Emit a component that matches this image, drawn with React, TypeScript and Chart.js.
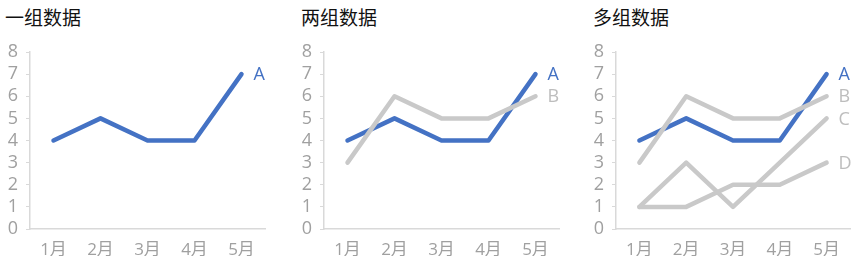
import React, { useEffect, useRef } from "react";
import { Chart, registerables } from "chart.js";

Chart.register(...registerables);

const months = ["1月", "2月", "3月", "4月", "5月"];
const seriesA = [4, 5, 4, 4, 7];
const seriesB = [3, 6, 5, 5, 6];
const seriesC = [1, 3, 1, 3, 5];
const seriesD = [1, 1, 2, 2, 3];
const yTicks = [0, 1, 2, 3, 4, 5, 6, 7, 8];
const titles = ["一组数据", "两组数据", "多组数据"];

const BLUE = "#4472C4";
const GRAY = "#C9C9C9";
const LABEL_GRAY = "#BDBDBD";
const FONT = "'Open Sans', 'Noto Sans CJK SC', sans-serif";

type S = { name: string; data: number[]; color: string; labelColor: string };

const panelSeries: S[][] = [
  [{ name: "A", data: seriesA, color: BLUE, labelColor: BLUE }],
  [
    { name: "B", data: seriesB, color: GRAY, labelColor: LABEL_GRAY },
    { name: "A", data: seriesA, color: BLUE, labelColor: BLUE },
  ],
  [
    { name: "D", data: seriesD, color: GRAY, labelColor: LABEL_GRAY },
    { name: "C", data: seriesC, color: GRAY, labelColor: LABEL_GRAY },
    { name: "B", data: seriesB, color: GRAY, labelColor: LABEL_GRAY },
    { name: "A", data: seriesA, color: BLUE, labelColor: BLUE },
  ],
];

const panels = [
  { left: 0, width: 285, padRight: 20, titleLeft: 5 },
  { left: 294, width: 285, padRight: 20, titleLeft: 301 },
  { left: 586, width: 269, padRight: 5, titleLeft: 593 },
];

const endLabels = {
  id: "endLabels",
  afterDatasetsDraw(chart: any) {
    const ctx = chart.ctx;
    ctx.save();
    ctx.font = `18px ${FONT}`;
    ctx.textBaseline = "middle";
    ctx.textAlign = "left";
    chart.data.datasets.forEach((ds: any, i: number) => {
      const meta = chart.getDatasetMeta(i);
      const pt = meta.data[meta.data.length - 1];
      if (!pt) return;
      ctx.fillStyle = ds.labelColor;
      ctx.fillText(ds.label, pt.x + 12, pt.y + 1);
    });
    ctx.restore();
  },
};

function Panel({ idx }: { idx: number }) {
  const ref = useRef<HTMLCanvasElement>(null);
  const p = panels[idx];
  useEffect(() => {
    if (!ref.current) return;
    const chart = new Chart(ref.current, {
      type: "line",
      data: {
        labels: months,
        datasets: panelSeries[idx].map((s) => ({
          label: s.name,
          data: s.data,
          borderColor: s.color,
          backgroundColor: s.color,
          labelColor: s.labelColor,
          borderWidth: 4.5,
          pointRadius: 0,
          borderCapStyle: "round",
          borderJoinStyle: "round",
          tension: 0,
        })) as any,
      },
      options: {
        animation: false,
        responsive: false,
        layout: { padding: { top: 52, right: p.padRight, left: 0, bottom: 0 } },
        plugins: { legend: { display: false }, tooltip: { enabled: false }, title: { display: false } },
        scales: {
          x: {
            offset: true,
            grid: { display: false },
            border: { display: true, color: "#D9D9D9", width: 1.5 },
            ticks: { color: "#A0A0A0", font: { family: FONT, size: 17 }, padding: 3, maxRotation: 0, autoSkip: false },
            afterFit: (s: any) => {
              s.height = 27;
            },
          },
          y: {
            min: 0,
            max: 8,
            afterBuildTicks: (s: any) => {
              s.ticks = yTicks.map((v) => ({ value: v }));
            },
            grid: { display: true, drawOnChartArea: false, drawTicks: true, tickLength: 4, color: "#D9D9D9" },
            border: { display: true, color: "#D9D9D9", width: 1.5 },
            ticks: { color: "#A0A0A0", font: { family: FONT, size: 18 }, padding: 8, autoSkip: false },
            afterFit: (s: any) => {
              s.width = 30;
            },
          },
        },
      },
      plugins: [endLabels],
    });
    return () => chart.destroy();
  }, []);
  return (
    <>
      <div
        style={{
          position: "absolute",
          left: p.titleLeft,
          top: 7,
          fontFamily: "'Noto Sans CJK SC', sans-serif",
          fontSize: 19,
          lineHeight: "19px",
          fontWeight: 400,
          color: "#111",
          whiteSpace: "nowrap",
        }}
      >
        {titles[idx]}
      </div>
      <canvas
        ref={ref}
        width={p.width}
        height={256}
        style={{ position: "absolute", left: p.left, top: 0, width: p.width, height: 256, display: "block" }}
      />
    </>
  );
}

export default function App() {
  return (
    <div style={{ position: "fixed", left: 0, top: 0, width: 855, height: 256, background: "#fff", overflow: "hidden" }}>
      <Panel idx={0} />
      <Panel idx={1} />
      <Panel idx={2} />
    </div>
  );
}
